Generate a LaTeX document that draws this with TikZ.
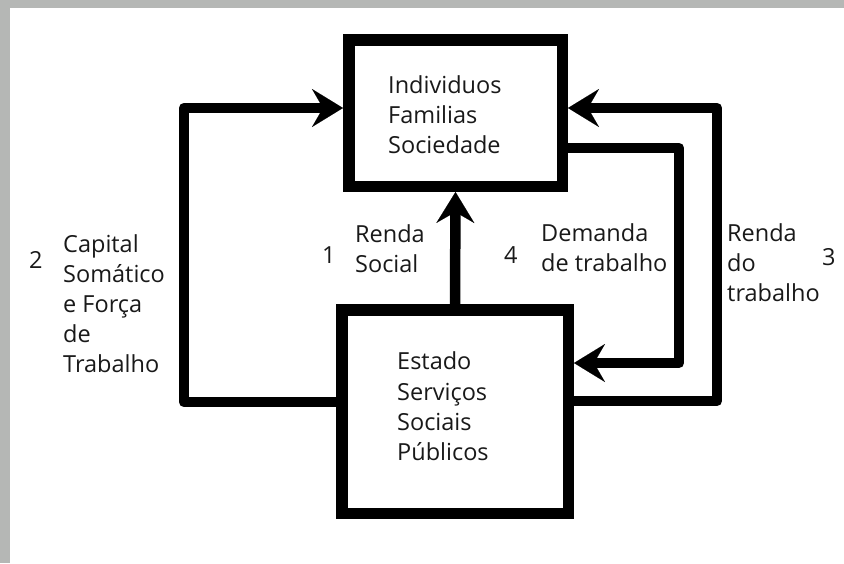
\documentclass[tikz,border=0pt]{standalone}
\usepackage{fontspec}
\setmainfont{Open Sans}
\usetikzlibrary{arrows.meta}
\definecolor{framegray}{RGB}{181,183,181}
\tikzset{
  x=1pt, y=-1pt,
  boxnode/.style={draw=black, line width=11.5pt, fill=white, inner sep=0pt},
  lbl/.style={anchor=base west, inner sep=0pt, font=\fontsize{23.5}{30}\selectfont, text=black!90},
  arr/.style={line width=10.5pt, line join=round, -{Stealth[length=31pt, width=38pt, inset=11pt, line width=0.1pt]}},
}
\begin{document}
\begin{tikzpicture}
\useasboundingbox (0,0) rectangle (844,563);
\fill[white] (0,0) rectangle (844,563);
\fill[framegray] (0,0) rectangle (844,8);
\fill[framegray] (0,0) rectangle (10,563);

\node[boxnode, minimum width=213.5pt, minimum height=146.5pt] (top) at (455.5,113) {};
\node[boxnode, minimum width=226.5pt, minimum height=203.5pt] (bot) at (455,411.5) {};

\coordinate (l1) at (184,402);
\coordinate (l2) at (184,108);
\coordinate (r1) at (717,401);
\coordinate (r2) at (717,108);
\coordinate (q1) at (679,148);
\coordinate (q2) at (679,363);

\draw[arr] (bot.north) -- (top.south);
\draw[arr] (bot.west |- l1) -- (l1) -- (l2) -- (l2 -| top.west);
\draw[arr] (bot.east |- r1) -- (r1) -- (r2) -- (r2 -| top.east);
\draw[arr] (top.east |- q1) -- (q1) -- (q2) -- (q2 -| bot.east);

\node[lbl] (ta) at (388,93) {Individuos};
\node[lbl] (tb) at (388,123) {Familias};
\node[lbl] (tc) at (388,153) {Sociedade};

\node[lbl] (ba) at (397,369) {Estado};
\node[lbl] (bb) at (397,400) {Serviços};
\node[lbl] (bc) at (397,430) {Sociais};
\node[lbl] (bd) at (397,460) {Públicos};

\node[lbl] (n2) at (29,268) {2};
\node[lbl] (ca) at (63,252) {Capital};
\node[lbl] (cb) at (63,282) {Somático};
\node[lbl] (cc) at (63,312) {e Força};
\node[lbl] (cd) at (63,342) {de};
\node[lbl] (ce) at (63,372) {Trabalho};

\node[lbl] (n1) at (322,263) {1};
\node[lbl] (sa) at (355,242) {Renda};
\node[lbl] (sb) at (355,272) {Social};

\node[lbl] (n4) at (504,263) {4};
\node[lbl] (da) at (541,241) {Demanda};
\node[lbl] (db) at (541,271) {de trabalho};

\node[lbl] (ra) at (727,241) {Renda};
\node[lbl] (rb) at (727,271) {do};
\node[lbl] (rc) at (727,301) {trabalho};
\node[lbl] (n3) at (822,265) {3};
\end{tikzpicture}
\end{document}
